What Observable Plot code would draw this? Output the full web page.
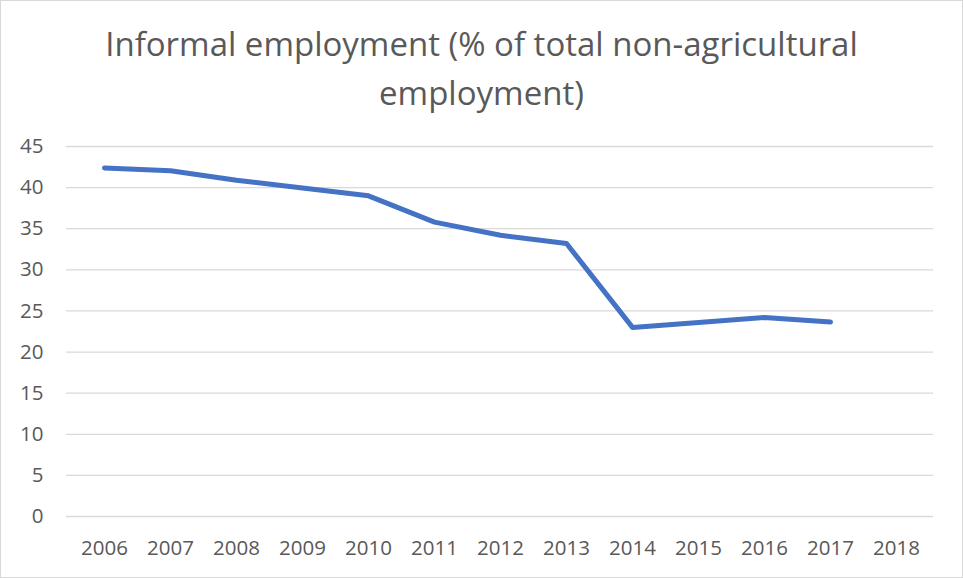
<!DOCTYPE html>
<html>
<head>
<meta charset="utf-8">
<script src="https://cdn.jsdelivr.net/npm/d3@7"></script>
<script src="https://cdn.jsdelivr.net/npm/@observablehq/plot@0.6"></script>
<style>
  html, body { margin: 0; padding: 0; background: #fff; }
  #wrap { width: 963px; height: 578px; box-sizing: border-box; border: 1px solid #d9d9d9; background: #fff; overflow: hidden; }
  #title { box-sizing: border-box; height: 117px; padding-top: 18px; text-align: center; font-family: "Open Sans", sans-serif; font-size: 33px; line-height: 49px; color: #595959; white-space: nowrap; }
  #chart svg { display: block; }
</style>
</head>
<body>
<div id="wrap">
  <div id="title">Informal employment (% of total non-agricultural<br>employment)</div>
  <div id="chart"></div>
</div>
<script>
const years = ["2006","2007","2008","2009","2010","2011","2012","2013","2014","2015","2016","2017","2018"];
const values = [42.4, 42.05, 40.9, 39.95, 39.0, 35.8, 34.2, 33.2, 23.0, 23.6, 24.2, 23.65, null];
const yTicks = [0, 5, 10, 15, 20, 25, 30, 35, 40, 45];

const data = years.map((year, i) => ({year, value: values[i]}));

const chart = Plot.plot({
  width: 961,
  height: 459,
  marginLeft: 65,
  marginRight: 29,
  marginTop: 28,
  marginBottom: 61,
  style: { fontFamily: "'Open Sans', sans-serif", fontSize: "20.5px", color: "#595959", background: "#fff", overflow: "visible" },
  x: { type: "point", domain: years, padding: 0.5, label: null },
  y: { domain: [0, 45], label: null },
  marks: [
    Plot.gridY(yTicks, { stroke: "#d9d9d9", strokeOpacity: 1, strokeWidth: 1.3 }),
    Plot.axisY(yTicks, { tickSize: 0, tickPadding: 23, label: null, fill: "#595959" }),
    Plot.axisX(years, { tickSize: 0, tickPadding: 24, label: null, fill: "#595959" }),
    Plot.line(data.filter(d => d.value != null), {
      x: "year", y: "value",
      stroke: "#4472C4", strokeWidth: 5, strokeLinecap: "round", strokeLinejoin: "round"
    })
  ]
});
document.getElementById("chart").appendChild(chart);
</script>
</body>
</html>
